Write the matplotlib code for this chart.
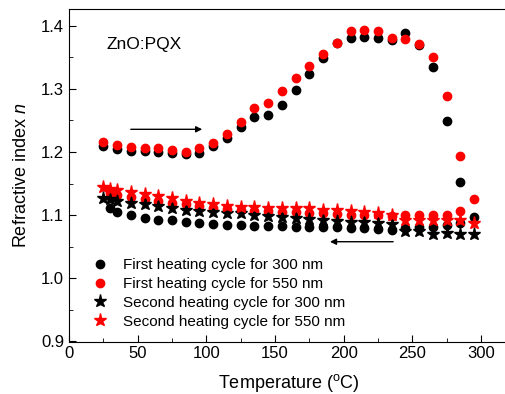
import matplotlib
matplotlib.use("Agg")
import matplotlib.pyplot as plt
from matplotlib.ticker import MultipleLocator

plt.rcParams['font.family'] = ['Liberation Sans', 'DejaVu Sans']
plt.rcParams['mathtext.fontset'] = 'custom'
plt.rcParams['mathtext.rm'] = 'Liberation Sans'
plt.rcParams['mathtext.it'] = 'Liberation Sans:italic'

# First heating cycle (heating branch)
heat_T = [25, 35, 45, 55, 65, 75, 85, 95, 105, 115, 125, 135, 145, 155, 165, 175,
          185, 195, 205, 215, 225, 235, 245, 255, 265, 275, 285, 295]
heat_300 = [1.210, 1.205, 1.202, 1.201, 1.200, 1.198, 1.197, 1.199, 1.209, 1.222,
            1.239, 1.255, 1.258, 1.275, 1.298, 1.324, 1.349, 1.373, 1.380, 1.382,
            1.380, 1.378, 1.389, 1.369, 1.334, 1.249, 1.153, 1.097]
heat_550 = [1.216, 1.211, 1.208, 1.207, 1.206, 1.204, 1.200, 1.206, 1.215, 1.228,
            1.248, 1.269, 1.277, 1.296, 1.317, 1.336, 1.355, 1.373, 1.392, 1.394,
            1.392, 1.381, 1.379, 1.371, 1.350, 1.289, 1.193, 1.126]

# First heating cycle (cooling branch)
cool_T = [30, 35, 45, 55, 65, 75, 85, 95, 105, 115, 125, 135, 145, 155, 165, 175,
          185, 195, 205, 215, 225, 235, 245, 255, 265, 275, 285]
cool_300 = [1.111, 1.105, 1.101, 1.096, 1.093, 1.092, 1.089, 1.0875, 1.086, 1.085,
            1.084, 1.083, 1.083, 1.083, 1.082, 1.082, 1.082, 1.081, 1.079, 1.079,
            1.078, 1.076, 1.080, 1.081, 1.082, 1.084, 1.087]
cool_550 = [1.135, 1.132, 1.129, 1.126, 1.123, 1.120, 1.117, 1.114, 1.112, 1.110,
            1.108, 1.107, 1.106, 1.105, 1.105, 1.104, 1.103, 1.102, 1.101, 1.100,
            1.100, 1.099, 1.100, 1.100, 1.100, 1.101, 1.107]

# Second heating cycle
second_T = [25, 30, 35, 45, 55, 65, 75, 85, 95, 105, 115, 125, 135, 145, 155, 165,
            175, 185, 195, 205, 215, 225, 235, 245, 255, 265, 275, 285, 295]
second_300 = [1.127, 1.125, 1.123, 1.120, 1.117, 1.115, 1.112, 1.109, 1.106, 1.105,
              1.104, 1.103, 1.101, 1.099, 1.097, 1.095, 1.094, 1.092, 1.091, 1.090,
              1.089, 1.087, 1.086, 1.075, 1.075, 1.071, 1.072, 1.070, 1.070]
second_550 = [1.144, 1.141, 1.140, 1.137, 1.134, 1.131, 1.128, 1.123, 1.120, 1.117,
              1.115, 1.113, 1.113, 1.112, 1.111, 1.111, 1.111, 1.109, 1.108, 1.106,
              1.105, 1.104, 1.101, 1.093, 1.093, 1.092, 1.092, 1.092, 1.087]

labels = ["First heating cycle for 300 nm", "First heating cycle for 550 nm",
          "Second heating cycle for 300 nm", "Second heating cycle for 550 nm"]

fig = plt.figure(figsize=(5.05, 3.94), dpi=100)
ax = fig.add_axes([69/505, 1-341.5/394, 439.5/505, 332.5/394])

ax.plot(heat_T + cool_T, heat_300 + cool_300, 'o', color='black', ms=6,
        mec='black', label=labels[0], zorder=3)
ax.plot(heat_T + cool_T, heat_550 + cool_550, 'o', color='red', ms=6,
        mec='red', label=labels[1], zorder=3)
ax.plot(second_T, second_300, '*', color='black', ms=9.5, mec='black',
        label=labels[2], zorder=3)
ax.plot(second_T, second_550, '*', color='red', ms=9.5, mec='red',
        label=labels[3], zorder=3)

ax.annotate('', xy=(97, 1.236), xytext=(45, 1.236),
            arrowprops=dict(arrowstyle='-|>', color='black', lw=1.0,
                            mutation_scale=9, shrinkA=0, shrinkB=0))
ax.annotate('', xy=(190, 1.058), xytext=(236, 1.058),
            arrowprops=dict(arrowstyle='-|>', color='black', lw=1.0,
                            mutation_scale=9, shrinkA=0, shrinkB=0))

ax.text(27, 1.371, 'ZnO:PQX', fontsize=12.5, va='center', ha='left')

ax.set_xlim(0, 320)
ax.set_ylim(0.9, 1.4265)
ax.xaxis.set_major_locator(MultipleLocator(50))
ax.xaxis.set_minor_locator(MultipleLocator(25))
ax.yaxis.set_major_locator(MultipleLocator(0.1))
ax.yaxis.set_minor_locator(MultipleLocator(0.05))
ax.tick_params(which='both', direction='in', labelsize=12)
ax.tick_params(which='major', length=5)
ax.tick_params(which='minor', length=3)
ax.yaxis.set_major_formatter(plt.FuncFormatter(lambda v, p: f"{v:.1f}"))

ax.set_xlabel(r'Temperature ($^{\rm o}$C)', fontsize=13, labelpad=8)
ax.set_ylabel(r'Refractive index $n$', fontsize=13, labelpad=8)

ax.legend(loc='upper left', bbox_to_anchor=(0.053, 0.251), frameon=False,
          fontsize=11, handlelength=1.0, handletextpad=1.0, labelspacing=0.32,
          borderpad=0, borderaxespad=0)

fig.savefig('out.png', dpi=100)
